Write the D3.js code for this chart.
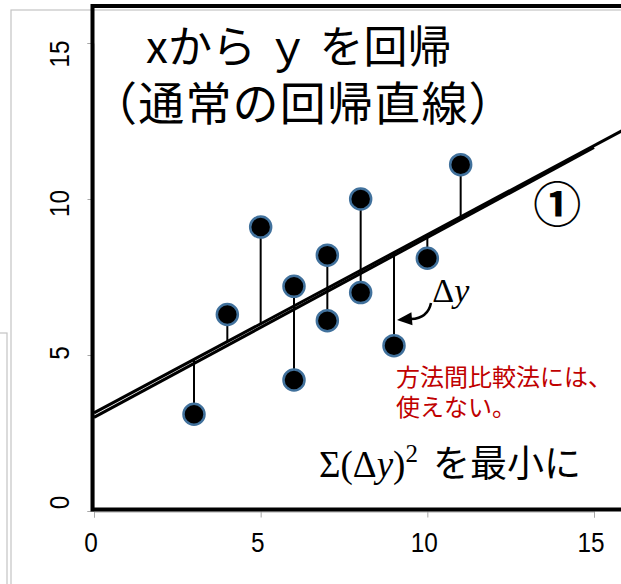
<!DOCTYPE html>
<html>
<head>
<meta charset="utf-8">
<script src="https://cdn.jsdelivr.net/npm/d3@7/dist/d3.min.js"></script>
<style>
  html, body { margin: 0; padding: 0; background: #fff; }
  svg { display: block; }
</style>
</head>
<body>
<svg id="chart" width="621" height="584"></svg>
<script>
// Observations (x, y)
const xValues = [3, 4, 5, 6, 6, 7, 7, 8, 8, 9, 10, 11];
const yValues = [3.1, 6.3, 9.1, 4.2, 7.2, 8.2, 6.1, 10.0, 7.0, 5.3, 8.1, 11.1];

// Axis ticks
const xTicks = [0, 5, 10, 15];
const yTicks = [0, 5, 10, 15];

// Hand-drawn line ① : start and end points (x, y)
const guideX = [0, 15];
const guideY = [3.0, 11.65];

const svg = d3.select("#chart");

const x = d3.scaleLinear().domain([0, 15]).range([94, 594]);
const y = d3.scaleLinear().domain([0, 15]).range([511, 43]);
// tick labels sit on their own slightly tighter spacing
const yLab = d3.scaleLinear().domain([0, 15]).range([502.5, 54]);

// least-squares fit of y on x
const n = xValues.length;
const mx = d3.mean(xValues), my = d3.mean(yValues);
let sxy = 0, sxx = 0;
for (let i = 0; i < n; i++) {
  sxy += (xValues[i] - mx) * (yValues[i] - my);
  sxx += (xValues[i] - mx) ** 2;
}
const slope = sxy / sxx;
const intercept = my - slope * mx;
const fit = v => intercept + slope * v;

// light grey panel outlines behind the plot
svg.append("rect").attr("x", 11).attr("y", 10).attr("width", 700).attr("height", 700)
  .attr("fill", "none").attr("stroke", "#c4c4c4").attr("stroke-width", 1.2);
svg.append("rect").attr("x", -20).attr("y", 333).attr("width", 27).attr("height", 400)
  .attr("fill", "none").attr("stroke", "#c4c4c4").attr("stroke-width", 1.2);

// grey axes with ticks
const xAxis = d3.axisBottom(x).tickValues(xTicks).tickSize(6).tickFormat("");
const yAxis = d3.axisLeft(y).tickValues(yTicks).tickSize(6).tickFormat("");
const gx = svg.append("g").attr("transform", "translate(0,511.5)").call(xAxis);
const gy = svg.append("g").attr("transform", "translate(93.5,0)").call(yAxis);
[gx, gy].forEach(g => {
  g.selectAll("path, line").attr("stroke", "#a8a8a8").attr("stroke-width", 1);
});

// tick labels
svg.append("g").selectAll("text").data(xTicks).join("text")
  .attr("transform", d => `translate(${x(d) - 3},552) scale(0.87,1)`)
  .attr("text-anchor", "middle")
  .attr("font-family", "'Liberation Sans', Arial, sans-serif")
  .attr("font-size", 28).attr("fill", "#000")
  .text(d => d);
svg.append("g").selectAll("text").data(yTicks).join("text")
  .attr("transform", d => `translate(69,${yLab(d)}) rotate(-90) scale(0.87,1)`)
  .attr("text-anchor", "middle")
  .attr("font-family", "'Liberation Sans', Arial, sans-serif")
  .attr("font-size", 28).attr("fill", "#000")
  .text(d => d);

// fitted regression line across the whole panel
svg.append("line")
  .attr("x1", x(0)).attr("y1", y(fit(0)))
  .attr("x2", x(15.9)).attr("y2", y(fit(15.9)))
  .attr("stroke", "#000").attr("stroke-width", 3);

// line ①
svg.append("line")
  .attr("x1", x(guideX[0])).attr("y1", y(guideY[0]))
  .attr("x2", x(guideX[1])).attr("y2", y(guideY[1]))
  .attr("stroke", "#000").attr("stroke-width", 3);

// vertical residuals
const pts = xValues.map((v, i) => ({ x: v, y: yValues[i] }));
svg.append("g").selectAll("line").data(pts).join("line")
  .attr("x1", d => x(d.x)).attr("x2", d => x(d.x))
  .attr("y1", d => y(d.y)).attr("y2", d => y(fit(d.x)))
  .attr("stroke", "#000").attr("stroke-width", 2);

// black frame
svg.append("path")
  .attr("d", `M 640 6 L 92.5 6 L 92.5 509.5 L 640 509.5`)
  .attr("fill", "none").attr("stroke", "#000").attr("stroke-width", 4);

// points
svg.append("g").selectAll("circle").data(pts).join("circle")
  .attr("cx", d => x(d.x)).attr("cy", d => y(d.y)).attr("r", 10.5)
  .attr("fill", "#000").attr("stroke", "#41719c").attr("stroke-width", 2.5);

// title
const jp = "'Noto Sans CJK JP', 'Noto Sans', sans-serif";
svg.append("text").attr("font-family", jp).attr("font-size", 44).attr("fill", "#000")
  .attr("x", 146).attr("y", 63).text("xから ｙ を回帰");
svg.append("text").attr("font-family", jp).attr("font-size", 46).attr("fill", "#000")
  .attr("letter-spacing", 1.2)
  .attr("x", 91).attr("y", 120).text("（通常の回帰直線）");

// ① label
svg.append("text").attr("font-family", jp).attr("font-size", 48).attr("font-weight", 700)
  .attr("fill", "#000").attr("text-anchor", "middle")
  .attr("x", x(13.9)).attr("y", y(9.8) + 17).text("①");

// Δy label and arrow
const serif = "'Liberation Serif', 'DejaVu Serif', serif";
const dy = svg.append("text").attr("font-family", serif).attr("font-size", 34).attr("fill", "#000")
  .attr("x", x(10.15)).attr("y", y(6.7));
dy.append("tspan").text("Δ");
dy.append("tspan").attr("font-style", "italic").text("y");

const a0 = [x(10.11), y(6.67)], ac = [x(10.02), y(6.19)], a1 = [x(9.51), y(6.15)], tip = [x(9.09), y(6.12)];
svg.append("path")
  .attr("d", `M ${a0[0]} ${a0[1]} Q ${ac[0]} ${ac[1]} ${a1[0]} ${a1[1]}`)
  .attr("fill", "none").attr("stroke", "#000").attr("stroke-width", 2.5);
{
  const dxv = tip[0] - a1[0] + 3, dyv = tip[1] - a1[1];
  const len = Math.hypot(dxv, dyv), ux = dxv / len, uy = dyv / len;
  const bx = tip[0] - ux * 15, by = tip[1] - uy * 15;
  svg.append("path")
    .attr("d", `M ${tip[0]} ${tip[1]} L ${bx - uy * 6.5} ${by + ux * 6.5} L ${bx + uy * 6.5} ${by - ux * 6.5} Z`)
    .attr("fill", "#000");
}

// red note
const red = svg.append("text").attr("font-family", jp).attr("font-size", 24).attr("fill", "#c00000");
red.append("tspan").attr("x", 396).attr("y", 386).text("方法間比較法には、");
red.append("tspan").attr("x", 396).attr("y", 416).text("使えない。");

// Σ(Δy)² を最小に
const s = svg.append("text").attr("font-size", 37).attr("fill", "#000").attr("y", 477);
s.append("tspan").attr("x", 319).attr("font-family", serif).text("Σ(Δ");
s.append("tspan").attr("font-family", serif).attr("font-style", "italic").text("y");
s.append("tspan").attr("font-family", serif).text(")");
s.append("tspan").attr("font-family", serif).attr("font-size", 25).attr("dy", -15).text("2");
s.append("tspan").attr("x", 433).attr("dy", 15).attr("font-family", jp).attr("font-size", 37).text("を最小に");
</script>
</body>
</html>
